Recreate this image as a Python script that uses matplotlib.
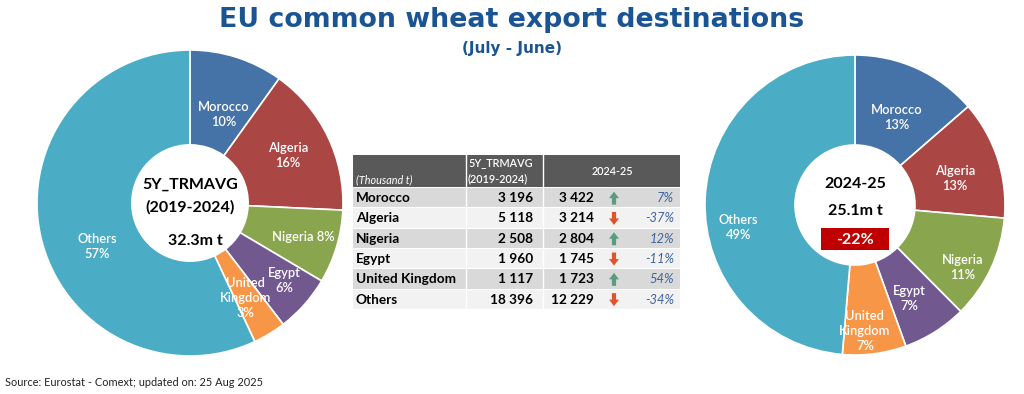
import numpy as np
import matplotlib
matplotlib.use("Agg")
import matplotlib.pyplot as plt
from matplotlib.patches import Rectangle, FancyArrow

# Data (thousand t)
countries = ["Morocco", "Algeria", "Nigeria", "Egypt", "United Kingdom", "Others"]
avg_5y = [3196, 5118, 2508, 1960, 1117, 18396]
cur_2425 = [3422, 3214, 2804, 1745, 1723, 12229]

# labels as shown on the donuts
left_labels = ["Morocco\n10%", "Algeria\n16%", "Nigeria 8%", "Egypt\n6%", "United\nKingdom\n3%", "Others\n57%"]
right_labels = ["Morocco\n13%", "Algeria\n13%", "Nigeria\n11%", "Egypt\n7%", "United\nKingdom\n7%", "Others\n49%"]

colors = ["#4572A7", "#AA4643", "#89A54E", "#71588F", "#F79646", "#4BACC6"]
title_col = "#1B5493"

fig = plt.figure(figsize=(10.24, 3.94), dpi=100, facecolor="white")
W, H = 1024, 394

# background axes in pixel coords
bg = fig.add_axes([0, 0, 1, 1])
bg.set_xlim(0, W)
bg.set_ylim(H, 0)
bg.axis("off")


def donut(cx, cy, r, hole, vals, labels, lab_r, lab_rot):
    ax = fig.add_axes([(cx - r) / W, (H - cy - r) / H, 2 * r / W, 2 * r / H])
    ax.pie(vals, colors=colors, startangle=90, counterclock=False, radius=1,
           wedgeprops=dict(width=1 - hole, edgecolor="white", linewidth=1.2))
    total = sum(vals)
    ang = 90.0
    for v, lab, lr, rot in zip(vals, labels, lab_r, lab_rot):
        span = 360.0 * v / total
        mid = np.deg2rad(ang - span / 2 + rot)
        ax.text(lr * np.cos(mid), lr * np.sin(mid), lab, ha="center", va="center",
                color="white", fontsize=9.3, fontweight="semibold", family="Lato", linespacing=1.3)
        ang -= span
    ax.set_xlim(-1, 1)
    ax.set_ylim(-1, 1)
    ax.set_aspect("equal")
    ax.axis("off")
    return ax


axl = donut(190, 203, 153, 0.38, avg_5y, left_labels,
            [0.62, 0.71, 0.77, 0.80, 0.72, 0.67], [-3, 0, 0, 2, -1, 12.7])
axr = donut(855, 205, 150, 0.40, cur_2425, right_labels,
            [0.65, 0.69, 0.83, 0.72, 0.84, 0.79], [-1, -3, -5, -2, -3, 13.6])

# title
bg.text(512, 20, "EU common wheat export destinations", ha="center", va="center",
        fontsize=19.3, fontweight="bold", color=title_col, family="DejaVu Sans")
bg.text(512, 48, "(July - June)", ha="center", va="center",
        fontsize=11, fontweight="bold", color=title_col, family="DejaVu Sans")

# donut centre texts
tot_5y = sum(avg_5y) / 1000.0
tot_cur = sum(cur_2425) / 1000.0
chg_tot = round((sum(cur_2425) / sum(avg_5y) - 1) * 100)
bg.text(190, 185, "5Y_TRMAVG", ha="center", va="center", fontsize=11.5, fontweight="bold", family="Lato")
bg.text(190, 207, "(2019-2024)", ha="center", va="center", fontsize=11.5, fontweight="bold", family="Lato")
bg.text(195, 241, "%.1fm t" % tot_5y, ha="center", va="center", fontsize=11.5, fontweight="bold", family="Lato")
bg.text(855, 184, "2024-25", ha="center", va="center", fontsize=11.5, fontweight="bold", family="Lato")
bg.text(855, 211, "%.1fm t" % tot_cur, ha="center", va="center", fontsize=11.5, fontweight="bold", family="Lato")
bg.add_patch(Rectangle((821, 228), 68, 22, facecolor="#C00000", edgecolor="none"))
bg.text(855, 239.5, "%d%%" % chg_tot, ha="center", va="center", fontsize=11.5,
        fontweight="bold", color="white", family="Lato")

# table
x0, x1, x2, x3 = 353, 466, 543, 680
hy0, hy1 = 155, 187
row_h = 20.3
bg.add_patch(Rectangle((x0, hy0), x3 - x0, hy1 - hy0, facecolor="#595959", edgecolor="none"))
bg.text(356, 180, "(Thousand t)", ha="left", va="center", fontsize=7.8, style="italic",
        color="white", family="Lato")
bg.text(468, 163, "5Y_TRMAVG", ha="left", va="center", fontsize=7.8, color="white",
        fontweight="semibold", family="Lato")
bg.text(468, 179, "(2019-2024)", ha="left", va="center", fontsize=7.8, color="white",
        fontweight="semibold", family="Lato")
bg.text(612, 171, "2024-25", ha="center", va="center", fontsize=7.8, color="white",
        fontweight="semibold", family="Lato")

for i, (c, a, b) in enumerate(zip(countries, avg_5y, cur_2425)):
    top = hy1 + 1 + i * row_h
    fc = "#D9D9D9" if i % 2 == 0 else "#F2F2F2"
    bg.add_patch(Rectangle((x0, top), x3 - x0, row_h - 1, facecolor=fc, edgecolor="none"))
    yc = top + row_h / 2
    bg.text(356, yc, c, ha="left", va="center", fontsize=9.8, fontweight="bold", family="Lato")
    bg.text(533, yc, f"{a:,}".replace(",", " "), ha="right", va="center", fontsize=9.8,
            fontweight="bold", family="Lato")
    bg.text(594, yc, f"{b:,}".replace(",", " "), ha="right", va="center", fontsize=9.8,
            fontweight="bold", family="Lato")
    chg = (b / a - 1) * 100
    pct = int(np.sign(chg) * np.floor(abs(chg) + 0.5))
    bg.text(674, yc, "%d%%" % pct, ha="right", va="center", fontsize=9.3, style="italic",
            color="#3B64A0", family="Lato")
    if chg >= 0:
        bg.add_patch(FancyArrow(614, yc + 6.5, 0, -13, width=4.2, head_width=10, head_length=6.5,
                                length_includes_head=True, color="#5A9C7E", lw=0))
    else:
        bg.add_patch(FancyArrow(614, yc - 6.5, 0, 13, width=4.2, head_width=10, head_length=6.5,
                                length_includes_head=True, color="#E2532C", lw=0))

# white column separators
for xs in (x1, x2):
    bg.plot([xs, xs], [hy0, hy1 + 6 * row_h], color="white", lw=1)

bg.text(5, 383, "Source: Eurostat - Comext; updated on: 25 Aug 2025", ha="left", va="center",
        fontsize=7.9, family="Lato", color="#222222")

fig.savefig("out.png", dpi=100, facecolor="white")
